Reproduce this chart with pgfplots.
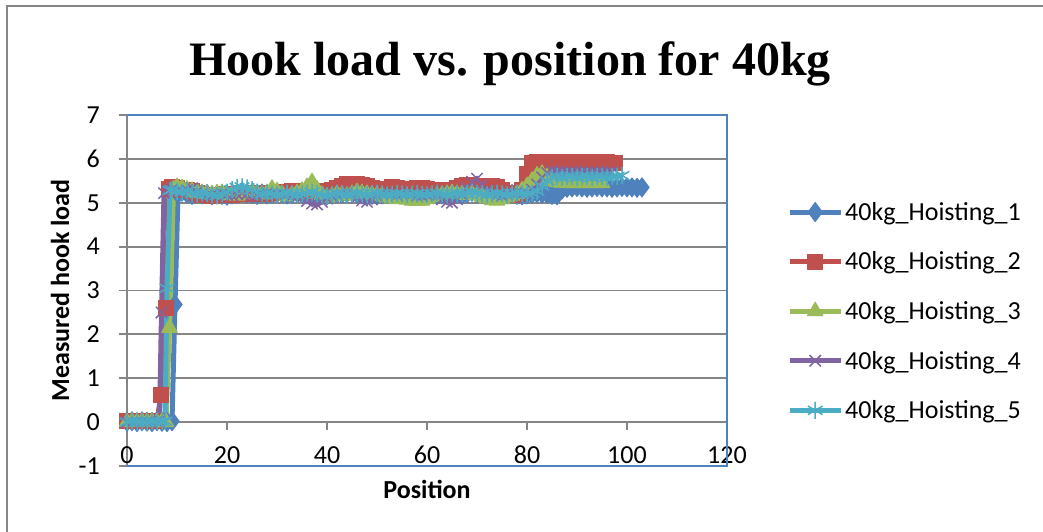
\documentclass[border=0pt]{standalone}
\usepackage{pgfplots}
\pgfplotsset{compat=1.18}
\usepackage{fontspec}
\setmainfont{Carlito}
\newfontfamily\titlefont{Liberation Serif}

\definecolor{serA}{HTML}{4F81BD}
\definecolor{serB}{HTML}{C0504D}
\definecolor{serC}{HTML}{9BBB59}
\definecolor{serD}{HTML}{8064A2}
\definecolor{serE}{HTML}{4BACC6}
\definecolor{frameblue}{HTML}{4F81BD}
\definecolor{gridgray}{HTML}{868686}

\begin{document}
\begin{tikzpicture}[x=1pt,y=1pt]
\useasboundingbox (0,0) rectangle (1043,532);
% chart area border
\draw[gridgray, line width=2pt] (7,0) -- (7,525.5) -- (1043,525.5);
% title
\node[anchor=base, font=\titlefont\bfseries\fontsize{48}{56}\selectfont] at (510,456) {Hook load vs. position for 40kg};
\begin{axis}[
  at={(127pt,66pt)}, anchor=south west,
  scale only axis, width=600pt, height=351pt,
  xmin=0, xmax=120, ymin=-1, ymax=7,
  xtick={0,20,...,120}, ytick={-1,0,...,7},
  axis x line*=middle, axis y line*=left,
  hide obscured x ticks=false, hide obscured y ticks=false,
  axis line style={gridgray, line width=2pt},
  x axis line style={-}, y axis line style={-},
  ymajorgrids, grid style={gridgray, line width=1.8pt},
  tick align=outside, major tick length=8pt,
  tick style={gridgray, line width=1.8pt},
  /pgf/number format/assume math mode=true,
  ticklabel style={font=\fontsize{26}{31}\selectfont, inner sep=0pt},
  xticklabel style={anchor=base, yshift=-33.5pt},
  yticklabel style={anchor=east, xshift=-19pt},
  xlabel={Position}, ylabel={Measured hook load},
  label style={font=\bfseries\fontsize{26}{31}\selectfont},
  xlabel style={at={(axis description cs:0.5,-0.0655)}, anchor=center},
  ylabel style={at={(axis description cs:-0.1117,0.5)}, anchor=center, rotate=0},
  clip=false,
  every axis plot/.append style={line width=5pt, line join=round},
  legend style={at={(axis description cs:1.1,0.441)}, anchor=west, draw=none, fill=none,
    font=\fontsize{26}{31}\selectfont, inner sep=0pt, row sep=26pt, cells={anchor=west}},
  legend image code/.code={\draw[#1, mark repeat=2, mark phase=2] plot coordinates {(0pt,0pt) (25.5pt,0pt) (51pt,0pt)};},
]
% plot area border
\draw[frameblue, line width=2pt] (rel axis cs:0,0) -- (rel axis cs:1,0) -- (rel axis cs:1,1) -- (rel axis cs:0,1);

\addplot[serA, mark=diamond*, mark size=9.5pt, mark options={solid, line width=1pt, fill=serA}] coordinates {
(0,0.01)(1,0.02)(2,0)(3,0.02)(4,0.01)(5,0)(6,0.02)(7,0.01)(8,0)(9,0.02)
(9.6,2.68)(10.2,5.2)(11,5.25)(12,5.21)(13,5.18)(14,5.22)(15,5.19)(16,5.2)(17,5.17)(18,5.19)
(19,5.18)(20,5.16)(21,5.19)(22,5.21)(23,5.24)(24,5.22)(25,5.2)(26,5.18)(27,5.21)(28,5.19)
(29,5.2)(30,5.22)(31,5.21)(32,5.19)(33,5.2)(34,5.23)(35,5.21)(36,5.19)(37,5.22)(38,5.2)
(39,5.18)(40,5.17)(41,5.19)(42,5.21)(43,5.2)(44,5.22)(45,5.24)(46,5.21)(47,5.19)(48,5.2)
(49,5.18)(50,5.17)(51,5.19)(52,5.21)(53,5.24)(54,5.26)(55,5.22)(56,5.19)(57,5.18)(58,5.2)
(59,5.19)(60,5.21)(61,5.2)(62,5.18)(63,5.19)(64,5.21)(65,5.22)(66,5.2)(67,5.18)(68,5.21)
(69,5.25)(70,5.22)(71,5.2)(72,5.19)(73,5.18)(74,5.2)(75,5.21)(76,5.19)(77,5.2)(78,5.18)
(79,5.17)(80,5.19)(81,5.2)(82,5.22)(83,5.21)(84,5.2)(85,5.18)(86,5.17)(87,5.3)(88,5.34)
(89,5.35)(90,5.36)(91,5.35)(92,5.34)(93,5.35)(94,5.36)(95,5.35)(96,5.35)(97,5.34)(98,5.35)
(99,5.36)(100,5.35)(101,5.35)(102,5.34)(103,5.35)
};
\addlegendentry{40kg\_Hoisting\_1}

\addplot[serB, mark=square*, mark size=7.5pt, mark options={solid, line width=1pt, fill=serB}] coordinates {
(0,0.03)(1,0.02)(2,0.03)(3,0.02)(4,0.03)(5,0.02)(6,0.03)(6.8,0.62)(7.8,2.6)(8.4,5.32)
(9,5.35)(10,5.33)(11,5.3)(12,5.28)(13,5.26)(14,5.22)(15,5.18)(16,5.17)(17,5.16)(18,5.18)
(19,5.17)(20,5.19)(21,5.18)(22,5.2)(23,5.19)(24,5.21)(25,5.2)(26,5.22)(27,5.21)(28,5.2)
(29,5.23)(30,5.24)(31,5.25)(32,5.24)(33,5.26)(34,5.25)(35,5.24)(36,5.26)(37,5.27)(38,5.25)
(39,5.24)(40,5.26)(41,5.3)(42,5.33)(43,5.38)(44,5.42)(45,5.43)(46,5.42)(47,5.41)(48,5.38)
(49,5.34)(50,5.3)(51,5.28)(52,5.32)(53,5.35)(54,5.33)(55,5.3)(56,5.28)(57,5.31)(58,5.33)
(59,5.34)(60,5.32)(61,5.3)(62,5.28)(63,5.26)(64,5.27)(65,5.29)(66,5.34)(67,5.38)(68,5.4)
(69,5.39)(70,5.38)(71,5.37)(72,5.36)(73,5.38)(74,5.35)(75,5.3)(76,5.22)(77,5.18)(78,5.2)
(79,5.28)(80,5.65)(81,5.9)(82,5.92)(83,5.91)(84,5.92)(85,5.92)(86,5.91)(87,5.92)(88,5.92)
(89,5.91)(90,5.92)(91,5.92)(92,5.91)(93,5.92)(94,5.92)(95,5.91)(96,5.92)(97,5.91)(97.6,5.9)
};
\addlegendentry{40kg\_Hoisting\_2}

\addplot[serC, mark=triangle*, mark size=9pt, mark options={solid, line width=1pt, fill=serC}] coordinates {
(0,0)(1,0.01)(2,0)(3,0.01)(4,0)(5,0.01)(6,0)(7,0.01)(7.8,0)(8.5,2.15)
(9.3,5.3)(10,5.36)(11,5.33)(12,5.3)(13,5.27)(14,5.24)(15,5.22)(16,5.2)(17,5.19)(18,5.21)
(19,5.22)(20,5.2)(21,5.18)(22,5.16)(23,5.19)(24,5.22)(25,5.24)(26,5.21)(27,5.19)(28,5.22)
(29,5.32)(30,5.26)(31,5.2)(32,5.15)(33,5.18)(34,5.22)(35,5.27)(36,5.36)(37,5.47)(38,5.3)
(39,5.18)(40,5.12)(41,5.15)(42,5.2)(43,5.18)(44,5.16)(45,5.2)(46,5.24)(47,5.22)(48,5.2)
(49,5.18)(50,5.17)(51,5.16)(52,5.12)(53,5.1)(54,5.08)(55,5.1)(56,5.07)(57,5.05)(58,5.04)
(59,5.05)(60,5.08)(61,5.12)(62,5.16)(63,5.18)(64,5.2)(65,5.22)(66,5.2)(67,5.19)(68,5.18)
(69,5.2)(70,5.17)(71,5.14)(72,5.1)(73,5.06)(74,5.05)(75,5.08)(76,5.12)(77,5.16)(78,5.2)
(79,5.28)(80,5.38)(81,5.5)(82,5.62)(83,5.66)(84,5.58)(85,5.5)(86,5.47)(87,5.46)(88,5.45)
(89,5.45)(90,5.46)(91,5.45)(92,5.45)(93,5.46)(94,5.45)(95,5.45)
};
\addlegendentry{40kg\_Hoisting\_3}

\addplot[serD, mark=x, mark size=8pt, mark options={solid, line width=1.5pt}] coordinates {
(0,0)(1,0)(2,0.01)(3,0)(4,0.01)(5,0)(6,0.01)(6.5,0.02)(6.9,2.5)(7.4,5.22)
(8,5.26)(9,5.3)(10,5.27)(11,5.24)(12,5.29)(13,5.33)(14,5.25)(15,5.2)(16,5.18)(17,5.16)
(18,5.19)(19,5.21)(20,5.18)(21,5.17)(22,5.2)(23,5.22)(24,5.2)(25,5.18)(26,5.16)(27,5.19)
(28,5.22)(29,5.2)(30,5.18)(31,5.21)(32,5.19)(33,5.16)(34,5.14)(35,5.12)(36,5.04)(37,4.98)
(38,4.96)(39,5.02)(40,5.1)(41,5.15)(42,5.18)(43,5.2)(44,5.22)(45,5.19)(46,5.12)(47,5.05)
(48,5.02)(49,5.08)(50,5.15)(51,5.2)(52,5.22)(53,5.19)(54,5.17)(55,5.2)(56,5.22)(57,5.19)
(58,5.16)(59,5.15)(60,5.18)(61,5.2)(62,5.16)(63,5.08)(64,5.02)(65,5.0)(66,5.08)(67,5.18)
(68,5.34)(69,5.48)(70,5.55)(71,5.4)(72,5.28)(73,5.22)(74,5.18)(75,5.16)(76,5.2)(77,5.22)
(78,5.24)(79,5.2)(80,5.22)(81,5.3)(82,5.42)(83,5.58)(84,5.68)(85,5.72)(86,5.7)(87,5.69)
(88,5.7)(89,5.7)(90,5.69)(91,5.7)(92,5.7)(93,5.69)(94,5.7)(95,5.7)(96,5.69)(97,5.7)
};
\addlegendentry{40kg\_Hoisting\_4}

\addplot[serE, mark=asterisk, mark size=8.5pt, mark options={solid, line width=1.5pt}] coordinates {
(0,0)(1,0.02)(2,0)(3,0.01)(4,0)(5,0.02)(6,0)(7,0.01)(7.6,0.02)(8,3.05)
(8.6,5.28)(9,5.3)(10,5.26)(11,5.24)(12,5.27)(13,5.22)(14,5.2)(15,5.22)(16,5.2)(17,5.18)
(18,5.16)(19,5.2)(20,5.24)(21,5.3)(22,5.35)(23,5.36)(24,5.34)(25,5.3)(26,5.24)(27,5.2)
(28,5.22)(29,5.2)(30,5.18)(31,5.2)(32,5.22)(33,5.2)(34,5.18)(35,5.2)(36,5.22)(37,5.24)
(38,5.2)(39,5.18)(40,5.16)(41,5.19)(42,5.21)(43,5.2)(44,5.18)(45,5.2)(46,5.22)(47,5.2)
(48,5.18)(49,5.2)(50,5.22)(51,5.2)(52,5.18)(53,5.19)(54,5.21)(55,5.2)(56,5.18)(57,5.2)
(58,5.21)(59,5.19)(60,5.18)(61,5.2)(62,5.22)(63,5.2)(64,5.18)(65,5.2)(66,5.21)(67,5.2)
(68,5.22)(69,5.24)(70,5.22)(71,5.2)(72,5.18)(73,5.2)(74,5.22)(75,5.2)(76,5.18)(77,5.2)
(78,5.22)(79,5.21)(80,5.2)(81,5.22)(82,5.26)(83,5.38)(84,5.5)(85,5.58)(86,5.6)(87,5.58)
(88,5.6)(89,5.6)(90,5.58)(91,5.6)(92,5.6)(93,5.58)(94,5.6)(95,5.6)(96,5.58)(97,5.6)(98,5.6)(99,5.62)
};
\addlegendentry{40kg\_Hoisting\_5}
\end{axis}
\end{tikzpicture}
\end{document}
